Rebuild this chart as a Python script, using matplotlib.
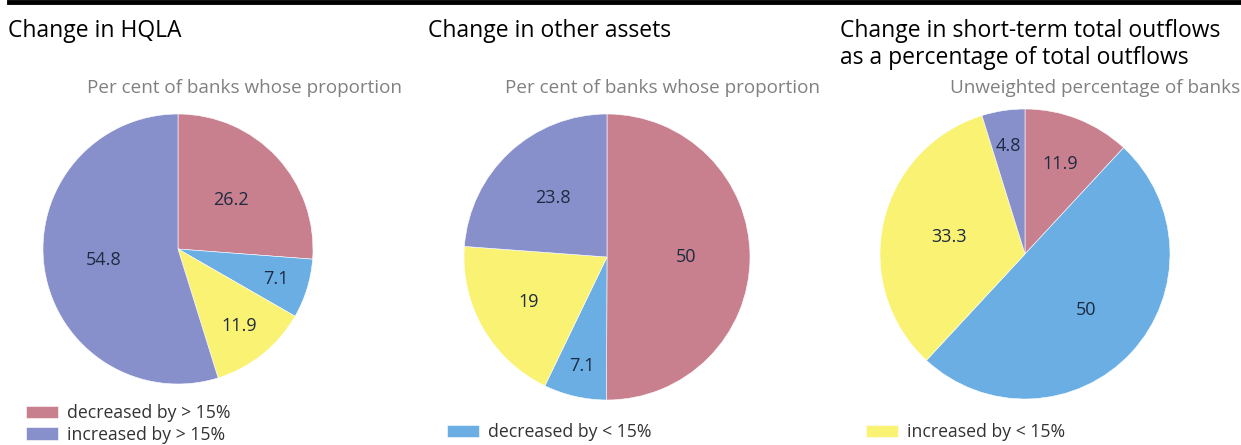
import numpy as np
import matplotlib.pyplot as plt
from matplotlib.lines import Line2D

plt.rcParams['font.family'] = ['Open Sans', 'DejaVu Sans']

# categories (same order in every pie, clockwise from 12 o'clock)
categories = ['decreased by > 15%', 'decreased by < 15%', 'increased by < 15%', 'increased by > 15%']
colors = ['#C8808F', '#6AAEE3', '#FAF272', '#8890CC']

titles = ['Change in HQLA', 'Change in other assets',
          'Change in short-term total outflows\nas a percentage of total outflows']
subtitles = ['Per cent of banks whose proportion', 'Per cent of banks whose proportion',
             'Unweighted percentage of banks']

hqla = [26.2, 7.1, 11.9, 54.8]
other_assets = [50, 7.1, 19, 23.8]
outflows = [11.9, 50, 33.3, 4.8]

# which categories go in each panel's legend
legend_items = [[0, 3], [1], [2]]

W, H = 1241, 445
fig = plt.figure(figsize=(W / 100, H / 100), dpi=100)

def fx(x):
    return x / W

def fy(y):
    return 1 - y / H

# thick rule at top
fig.add_artist(Line2D([fx(9), 1], [fy(2), fy(2)], color='black', lw=3.5))

# pie placement (pixels): centre x, centre y, radius, label distances, title x, subtitle right x
pies = [
    (hqla, 178, 249, 135, [0.53, 0.76, 0.73, 0.56], 8, 402),
    (other_assets, 607, 257, 143, [0.55, 0.78, 0.63, 0.56], 428, 820),
    (outflows, 1025, 254, 145, [0.67, 0.57, 0.54, 0.75], 840, 1240),
]
title_y = 31
sub_y = 88
leg_pos = [(26, 404), (447, 423), (866, 423)]

for i, (vals, cx, cy, r, ldist, tx, sx) in enumerate(pies):
    ax = fig.add_axes([fx(cx - r), fy(cy + r), 2 * r / W, 2 * r / H])
    wedges, texts = ax.pie(vals, colors=colors, startangle=90, counterclock=False,
                           labels=[('%g' % v) for v in vals], labeldistance=0.6,
                           wedgeprops=dict(edgecolor='white', linewidth=0.4),
                           textprops=dict(fontsize=13, color='#1e2a40'))
    for t, w, d in zip(texts, wedges, ldist):
        ang = np.deg2rad((w.theta1 + w.theta2) / 2)
        t.set_position((d * np.cos(ang), d * np.sin(ang)))
        t.set_ha('center'); t.set_va('center')
    ax.set_xlim(-1, 1); ax.set_ylim(-1, 1)
    for j, line in enumerate(titles[i].split('\n')):
        fig.text(fx(tx), fy(title_y + 27 * j), line, fontsize=16.5, va='center', ha='left', color='black')
    fig.text(fx(sx), fy(sub_y), subtitles[i], fontsize=13.6, va='center', ha='right', color='#808080')
    idx = legend_items[i]
    lx, ly = leg_pos[i]
    ax.legend([wedges[k] for k in idx], [categories[k] for k in idx], loc='upper left',
              bbox_to_anchor=(fx(lx), fy(ly)), bbox_transform=fig.transFigure, frameon=False,
              fontsize=12.7, handlelength=1.8, handleheight=0.7, handletextpad=0.5,
              labelspacing=0.2, borderpad=0, borderaxespad=0, labelcolor='#333333')

fig.savefig('out.png', dpi=100)
